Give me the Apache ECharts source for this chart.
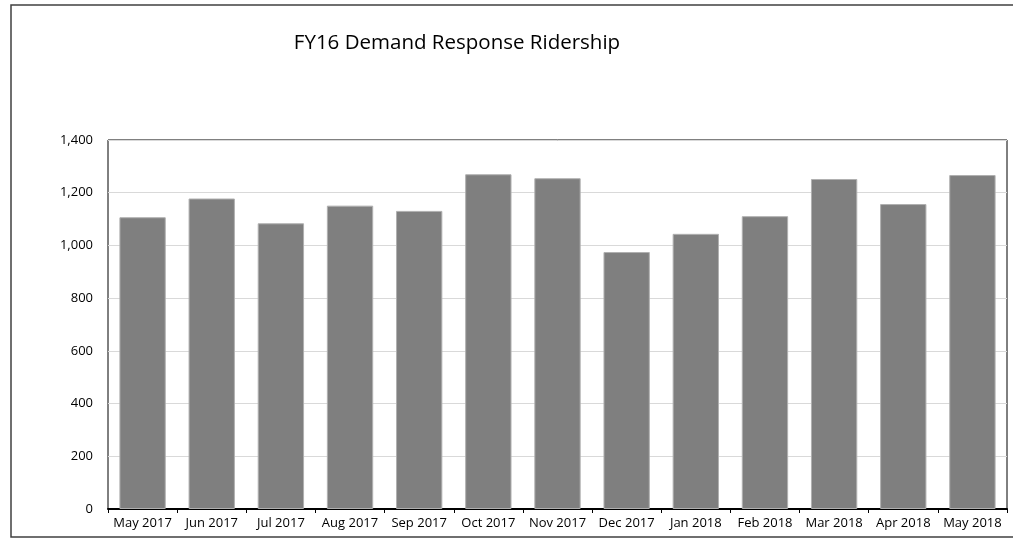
<!DOCTYPE html>
<html>
<head>
<meta charset="utf-8">
<script src="https://cdn.jsdelivr.net/npm/echarts@6/dist/echarts.min.js"></script>
<style>
  html, body { margin: 0; padding: 0; background: #fff; }
  #chart { width: 1013px; height: 539px; }
</style>
</head>
<body>
<div id="chart"></div>
<script>
const chartTitle = "FY16 Demand Response Ridership";
const months = [
  "May 2017", "Jun 2017", "Jul 2017", "Aug 2017", "Sep 2017", "Oct 2017", "Nov 2017",
  "Dec 2017", "Jan 2018", "Feb 2018", "Mar 2018", "Apr 2018", "May 2018"
];
const ridership = [1107, 1178, 1084, 1151, 1131, 1270, 1255, 975, 1044, 1111, 1252, 1157, 1267];
const yTicks = [0, 200, 400, 600, 800, 1000, 1200, 1400];

const fontFamily = "Open Sans";
const myChart = echarts.init(document.getElementById("chart"));

const option = {
  animation: false,
  backgroundColor: "#fff",
  title: {
    text: chartTitle,
    left: 457,
    top: 28,
    textAlign: "center",
    textStyle: { fontFamily, fontSize: 20.5, fontWeight: "normal", color: "#000" }
  },
  // outer frame of the chart
  graphic: [
    {
      type: "rect",
      shape: { x: 11, y: 5, width: 1010, height: 532 },
      style: { fill: "none", stroke: "#404040", lineWidth: 1.5 },
      silent: true
    }
  ],
  grid: {
    left: 108,
    right: 6,
    top: 140,
    bottom: 30,
    show: true,
    borderColor: "#000",
    borderWidth: 1
  },
  xAxis: {
    type: "category",
    data: months,
    axisLine: { lineStyle: { color: "#000", width: 2 } },
    axisTick: { show: true, alignWithLabel: false, length: 4, lineStyle: { color: "#000" } },
    axisLabel: { fontFamily, fontSize: 13, color: "#000", margin: 8, interval: 0 }
  },
  yAxis: {
    type: "value",
    min: yTicks[0],
    max: yTicks[yTicks.length - 1],
    interval: 200,
    axisLine: { show: false },
    axisTick: { show: false },
    splitLine: { lineStyle: { color: "#d9d9d9", width: 1 } },
    axisLabel: {
      fontFamily,
      fontSize: 13,
      color: "#000",
      margin: 15,
      formatter: v => v.toLocaleString("en-US")
    }
  },
  series: [
    {
      type: "bar",
      data: ridership,
      barCategoryGap: "33%",
      itemStyle: { color: "#7f7f7f", borderColor: "#b0b0b0", borderWidth: 1 }
    }
  ]
};

option.title.left = 452;
myChart.setOption(option);
</script>
</body>
</html>
